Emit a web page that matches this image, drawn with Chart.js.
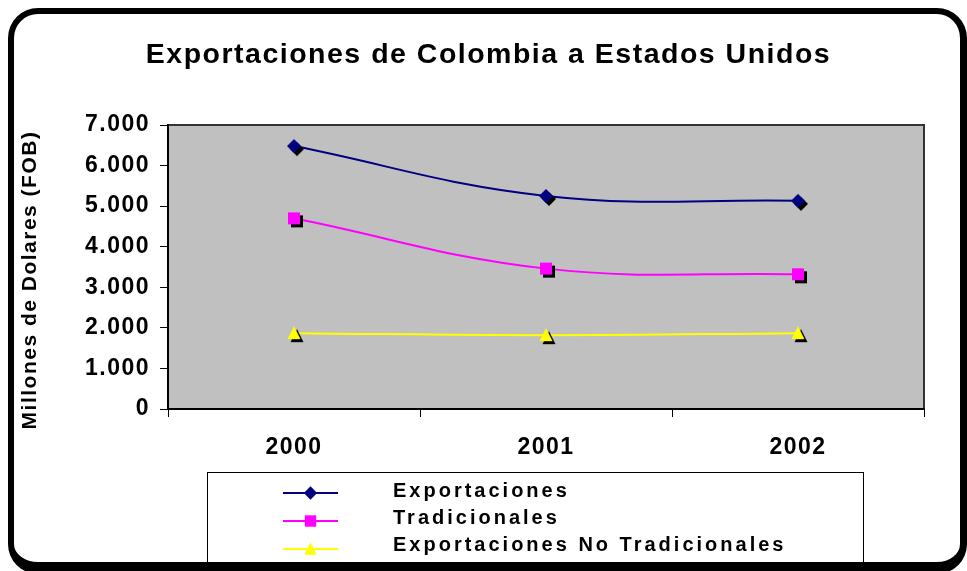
<!DOCTYPE html>
<html>
<head>
<meta charset="utf-8">
<title>Exportaciones de Colombia a Estados Unidos</title>
<script src="https://cdn.jsdelivr.net/npm/chart.js@4.4.1/dist/chart.umd.min.js"></script>
<style>
  html, body { margin: 0; padding: 0; background: #fff; overflow: hidden; }
  #wrap { position: relative; width: 967px; height: 571px; }
  #chart { position: absolute; left: 0; top: 0; }
  #frame {
    position: absolute; left: 8px; top: 8px; width: 959px; height: 566px;
    box-sizing: border-box; border: 6px solid #000; border-right-width: 7px; border-bottom-width: 12px;
    border-radius: 30px; pointer-events: none;
  }
</style>
</head>
<body>
<div id="wrap">
  <canvas id="chart" width="967" height="571"></canvas>
  <div id="frame"></div>
</div>
<script>
const chartTitle = 'Exportaciones de Colombia a Estados Unidos'
const yTitle = 'Millones de Dolares (FOB)'
const years = ['2000', '2001', '2002']
const exportaciones = [6480, 5250, 5130]
const tradicionales = [4700, 3460, 3320]
const noTradicionales = [1870, 1820, 1870]
const seriesNames = ['Exportaciones', 'Tradicionales', 'Exportaciones No Tradicionales']
const seriesColors = ['#000080', '#FF00FF', '#FFFF00']
const seriesShapes = ['diamond', 'square', 'triangle']
const yTickLabels = ['0', '1.000', '2.000', '3.000', '4.000', '5.000', '6.000', '7.000']

const FONT = 'Arial, "Liberation Sans", sans-serif'
Chart.defaults.font.family = FONT
Chart.defaults.color = '#000'

// marker shapes, used for points and legend
function drawMarker(ctx, shape, x, y, color, big) {
    const k = big ? 1 : 0.95
    ctx.fillStyle = color
    ctx.beginPath()
    if (shape === 'diamond') {
        const r = 7 * k
        ctx.moveTo(x, y - r)
        ctx.lineTo(x + r, y)
        ctx.lineTo(x, y + r)
        ctx.lineTo(x - r, y)
    } else if (shape === 'square') {
        const h = 6 * k
        ctx.rect(x - h, y - h, 2 * h, 2 * h)
    } else {
        ctx.moveTo(x, y - 7 * k)
        ctx.lineTo(x + 6.5 * k, y + 6 * k)
        ctx.lineTo(x - 6.5 * k, y + 6 * k)
    }
    ctx.closePath()
    ctx.fill()
}

// point image with black drop shadow (like the excel markers)
function makePointImage(shape, color) {
    const off = 3
    const size = 2 * (8 + off)
    const c = document.createElement('canvas')
    c.width = size
    c.height = size
    const ctx = c.getContext('2d')
    const m = size / 2
    drawMarker(ctx, shape, m + off, m + off, '#000', true)
    drawMarker(ctx, shape, m, m, color, true)
    return c
}

const seriesData = [exportaciones, tradicionales, noTradicionales]
const datasets = seriesData.map((values, i) => ({
    label: seriesNames[i],
    data: values,
    borderColor: seriesColors[i],
    backgroundColor: seriesColors[i],
    borderWidth: 2,
    tension: 0.4,
    pointStyle: makePointImage(seriesShapes[i], seriesColors[i]),
    pointRadius: 8,
    clip: false
}))

const framePlugin = {
    id: 'frameStuff',
    beforeUpdate(chart) {
        chart.ctx.letterSpacing = '1.5px'
    },
    beforeDraw(chart) {
        const ctx = chart.ctx
        const a = chart.chartArea
        ctx.letterSpacing = '1.5px'
        ctx.save()
        ctx.fillStyle = '#C0C0C0'
        ctx.fillRect(a.left, a.top, a.right - a.left, a.bottom - a.top)
        ctx.strokeStyle = '#333'
        ctx.lineWidth = 2
        ctx.strokeRect(a.left, a.top, a.right - a.left, a.bottom - a.top)
        ctx.restore()
    },
    afterDraw(chart) {
        const ctx = chart.ctx
        ctx.save()
        // y axis title
        ctx.save()
        ctx.translate(30, 280)
        ctx.rotate(-Math.PI / 2)
        ctx.fillStyle = '#000'
        ctx.font = 'bold 21px ' + FONT
        ctx.letterSpacing = '1.5px'
        ctx.textAlign = 'center'
        ctx.textBaseline = 'middle'
        ctx.fillText(yTitle, 0, 0)
        ctx.restore()

        // legend box
        ctx.strokeStyle = '#000'
        ctx.lineWidth = 1
        ctx.strokeRect(207.5, 472.5, 656, 120)
        const lineY = [493, 521, 549]
        const textY = [497, 524, 551]
        seriesNames.forEach((name, i) => {
            ctx.strokeStyle = seriesColors[i]
            ctx.lineWidth = 2
            ctx.beginPath()
            ctx.moveTo(283, lineY[i])
            ctx.lineTo(338, lineY[i])
            ctx.stroke()
            drawMarker(ctx, seriesShapes[i], 310.5, lineY[i], seriesColors[i], false)
            ctx.fillStyle = '#000'
            ctx.font = 'bold 20px ' + FONT
            ctx.letterSpacing = '3px'
            ctx.textAlign = 'left'
            ctx.textBaseline = 'alphabetic'
            ctx.fillText(name, 393, textY[i])
        })
        ctx.restore()
    }
}

new Chart(document.getElementById('chart'), {
    type: 'line',
    data: { labels: years, datasets: datasets },
    options: {
        responsive: false,
        animation: false,
        events: [],
        layout: { padding: { top: 10, left: 53, right: 43, bottom: 100 } },
        plugins: {
            legend: { display: false },
            tooltip: { enabled: false },
            title: {
                display: true,
                text: chartTitle,
                font: { size: 28.5, weight: 'bold' },
                padding: { top: 28, bottom: 52.8 }
            }
        },
        scales: {
            x: {
                offset: true,
                grid: { offset: true, drawOnChartArea: false, color: '#000', tickLength: 8 },
                border: { color: '#000', width: 2 },
                ticks: { font: { size: 23, weight: 'bold' }, padding: 17, maxRotation: 0 },
                afterFit(scale) { scale.height = 62 }
            },
            y: {
                min: 0,
                max: 7000,
                ticks: {
                    stepSize: 1000,
                    font: { size: 23, weight: 'bold' },
                    padding: 10,
                    callback: (v, i) => yTickLabels[i]
                },
                grid: { drawOnChartArea: false, color: '#000', tickLength: 8 },
                border: { color: '#000', width: 2 },
                afterFit(scale) { scale.width = 115 }
            }
        }
    },
    plugins: [framePlugin]
})
</script>
</body>
</html>
